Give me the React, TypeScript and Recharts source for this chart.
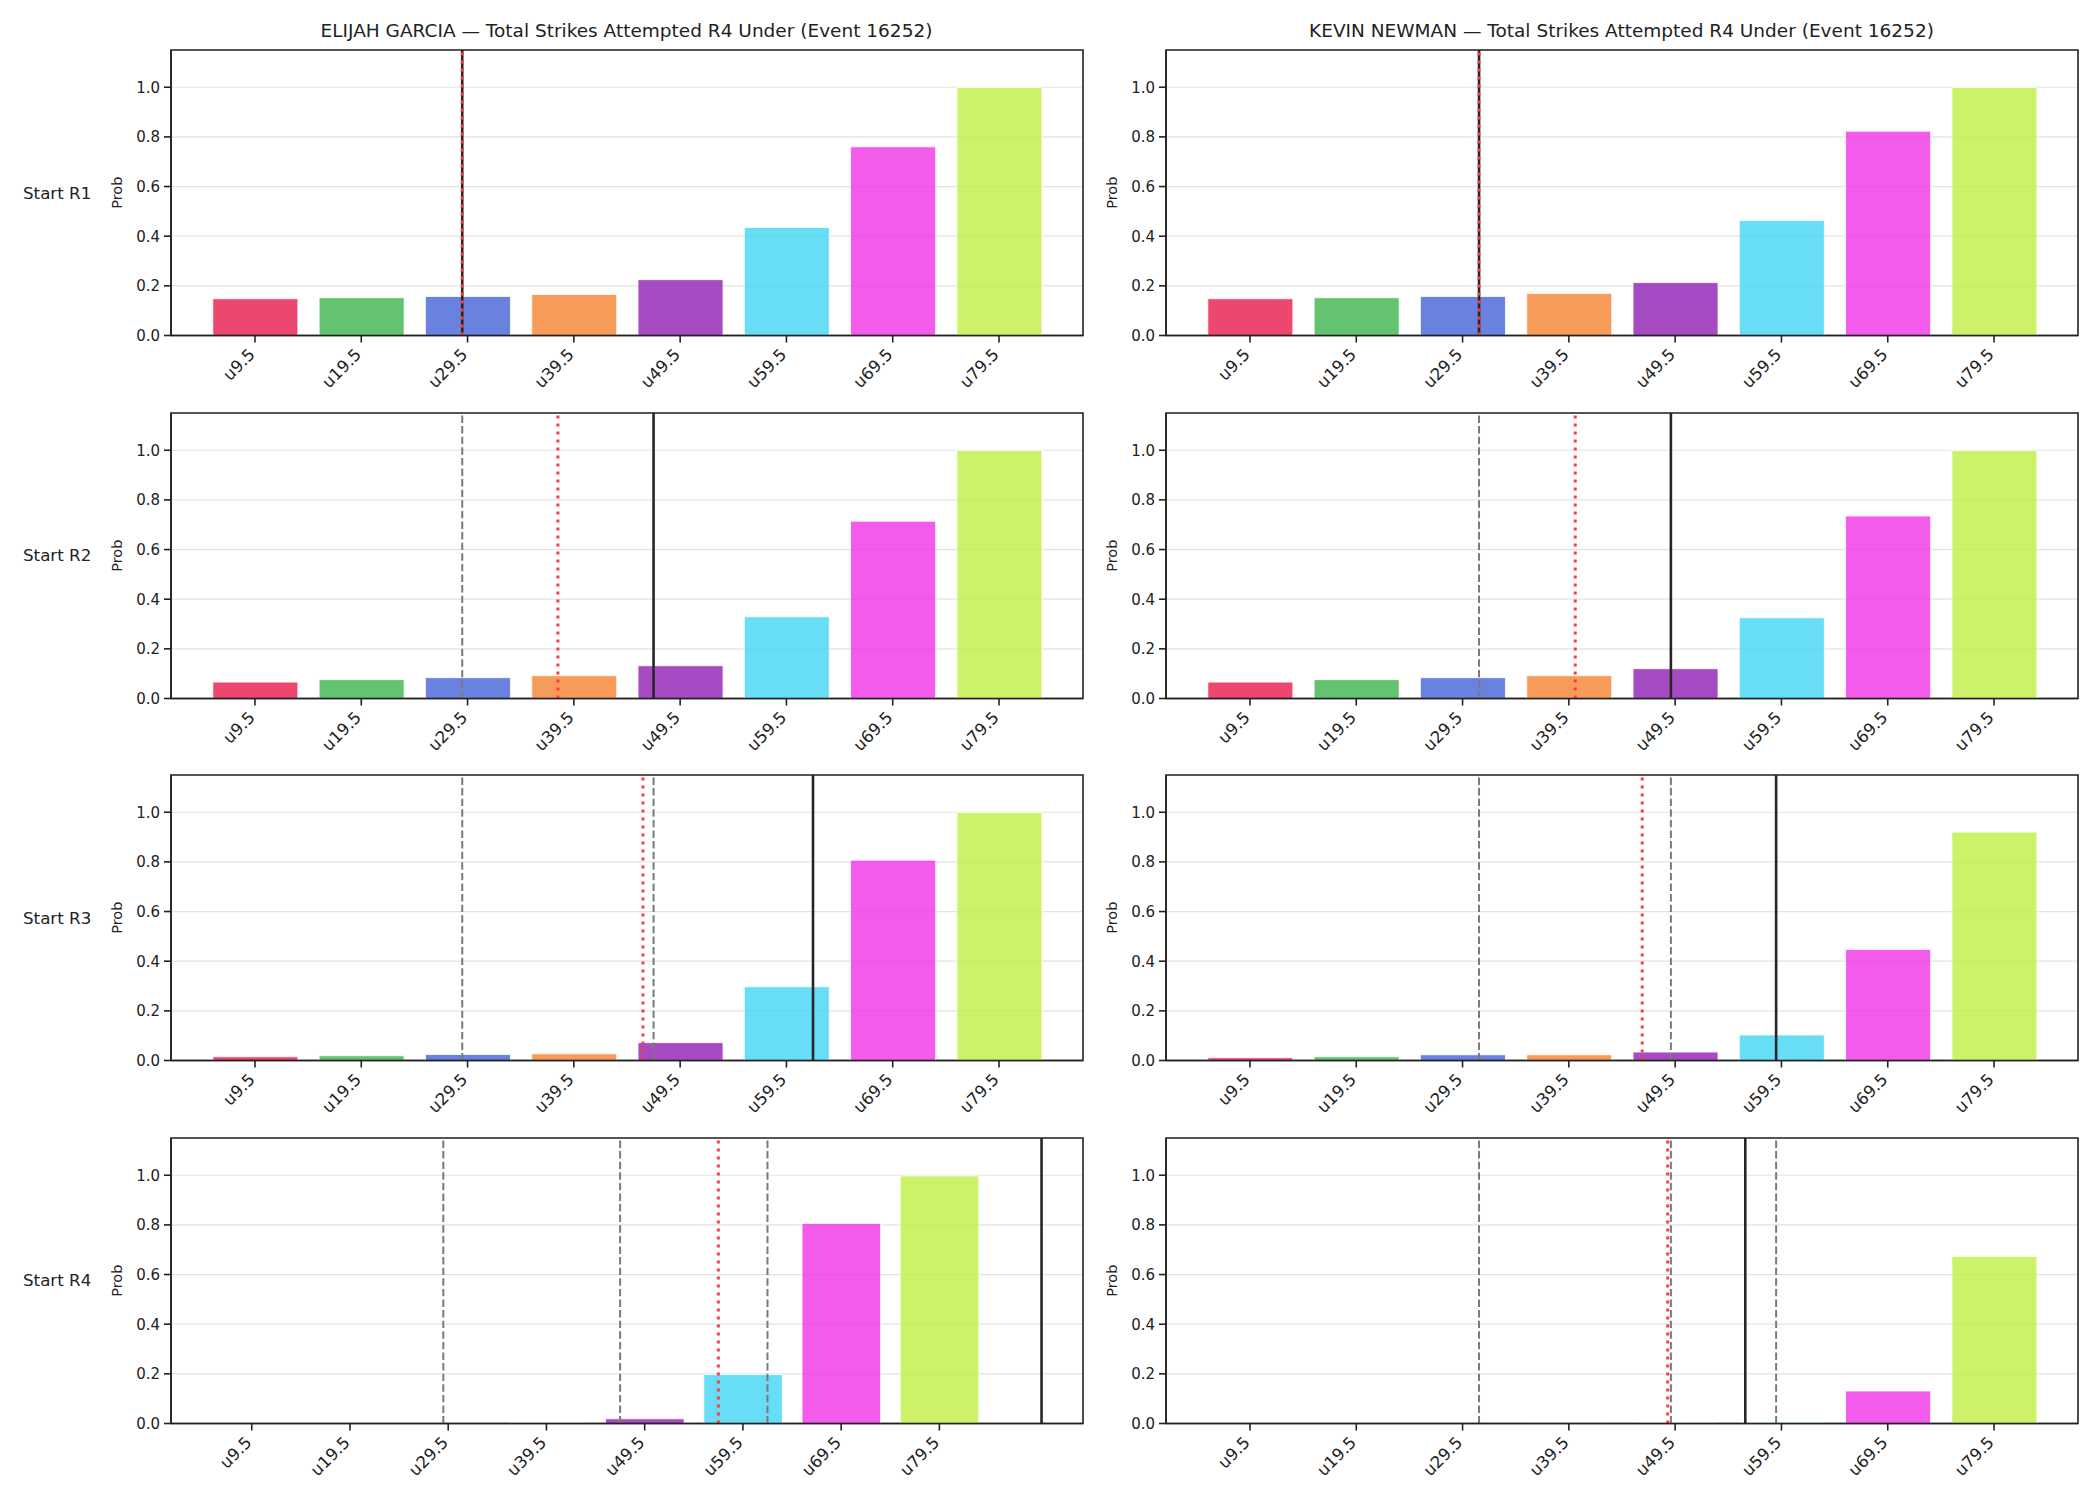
import React from 'react';
import { BarChart, Bar, XAxis, YAxis, CartesianGrid, ReferenceLine, ReferenceArea, Cell } from 'recharts';

// ---------- data ----------
const categories = ['u9.5', 'u19.5', 'u29.5', 'u39.5', 'u49.5', 'u59.5', 'u69.5', 'u79.5'];
const barColors = ['#e6194B', '#3cb44b', '#4363d8', '#f58231', '#911eb4', '#42d4f4', '#f032e6', '#bfef45'];
const roundLabels = ['Start R1', 'Start R2', 'Start R3', 'Start R4'];
const playerNames = ['ELIJAH GARCIA', 'KEVIN NEWMAN'];
const marketName = 'Total Strikes Attempted R4 Under';
const eventId = 16252;
const yTicks = [0, 0.2, 0.4, 0.6, 0.8, 1.0];

const garciaR1 = [0.148, 0.152, 0.157, 0.165, 0.225, 0.435, 0.760, 0.999];
const garciaR2 = [0.066, 0.076, 0.084, 0.092, 0.132, 0.329, 0.714, 0.999];
const garciaR3 = [0.015, 0.019, 0.024, 0.027, 0.072, 0.297, 0.807, 0.999];
const garciaR4 = [0.0, 0.0, 0.0, 0.002, 0.019, 0.197, 0.806, 0.997];

const newmanR1 = [0.148, 0.152, 0.157, 0.169, 0.213, 0.463, 0.823, 0.999];
const newmanR2 = [0.066, 0.076, 0.084, 0.092, 0.120, 0.325, 0.735, 0.999];
const newmanR3 = [0.011, 0.015, 0.023, 0.023, 0.034, 0.103, 0.447, 0.920];
const newmanR4 = [0.0, 0.0, 0.0, 0.001, 0.002, 0.005, 0.131, 0.673];

// marker positions on the category axis (index units)
const garciaStart = [1.95, 3.75, 5.25, 8.04];     // solid black
const garciaProj = [1.95, 2.85, 3.65, 4.75];      // red dotted
const newmanStart = [2.155, 3.96, 4.95, 4.66];
const newmanProj = [2.155, 3.06, 3.69, 3.93];

const players = [
  { name: playerNames[0], rounds: [garciaR1, garciaR2, garciaR3, garciaR4], start: garciaStart, proj: garciaProj },
  { name: playerNames[1], rounds: [newmanR1, newmanR2, newmanR3, newmanR4], start: newmanStart, proj: newmanProj },
];

// ---------- layout ----------
const FONT = 'DejaVu Sans';
const COL_LEFT = [170.5, 1165.5];
const ROW_TOP = [50, 412.5, 775, 1137.5];
const PW = 912;
const PH = 285.5;
const YW = 70;
const MT = 5;
const XH = 80;
const MR = 8;
const INK = '#222';

const XTick = (props: any) => {
  const { x, y, payload } = props;
  const ax = x + 1;
  const ay = y + 11;
  return (
    <text x={ax} y={ay} transform={`rotate(-45, ${ax}, ${ay})`} textAnchor="end" fontSize={16.5} fill={INK} fontFamily={FONT}>
      {categories[payload.value]}
    </text>
  );
};

const Panel = ({ probs, start, proj, prior }: { probs: number[]; start: number; proj: number; prior: number[] }) => {
  const data = probs.map((p, i) => ({ x: i, p }));
  const marks = [start, proj, ...prior];
  const lo = Math.min(-0.4, ...marks);
  const hi = Math.max(categories.length - 1 + 0.4, ...marks);
  const m = 0.05 * (hi - lo);
  const dmin = lo - m;
  const dmax = hi + m;
  const barSize = (0.8 * PW) / (dmax - dmin);
  const xTicks = categories.map((_, i) => i);
  return (
    <BarChart width={YW + PW + MR} height={MT + PH + XH} data={data} margin={{ top: MT, right: MR, left: 0, bottom: 0 }}>
      <CartesianGrid vertical={false} stroke="#e3e3e3" strokeWidth={1.2} />
      <XAxis
        dataKey="x"
        type="number"
        domain={[dmin, dmax]}
        allowDataOverflow
        ticks={xTicks}
        interval={0}
        height={XH}
        tickSize={7}
        tick={<XTick />}
        tickLine={{ stroke: INK, strokeWidth: 1.6 }}
        axisLine={{ stroke: INK, strokeWidth: 1.6 }}
      />
      <YAxis
        type="number"
        domain={[0, 1.15]}
        allowDataOverflow
        ticks={yTicks}
        interval={0}
        width={YW}
        tickSize={7}
        tickMargin={4}
        tickFormatter={(v: number) => v.toFixed(1)}
        tick={{ fontSize: 15, fill: INK, fontFamily: FONT }}
        tickLine={{ stroke: INK, strokeWidth: 1.6 }}
        axisLine={{ stroke: INK, strokeWidth: 1.6 }}
        label={(lp: any) => {
          const vb = lp.viewBox || {};
          const cx = (vb.x ?? 0) + 16;
          const cy = (vb.y ?? 0) + (vb.height ?? 0) / 2;
          return (
            <text x={cx} y={cy} transform={`rotate(-90, ${cx}, ${cy})`} textAnchor="middle" dominantBaseline="central" fontSize={14.5} fill={INK} fontFamily={FONT}>
              Prob
            </text>
          );
        }}
      />
      <Bar dataKey="p" barSize={barSize} isAnimationActive={false} stroke="#ffffff" strokeWidth={0.8}>
        {data.map((d, i) => (
          <Cell key={i} fill={barColors[i]} fillOpacity={0.8} />
        ))}
      </Bar>
      {prior.map((v, i) => (
        <ReferenceLine key={'g' + i} x={v} stroke="#7a7a7a" strokeWidth={2} strokeDasharray="7.4 3.2" />
      ))}
      <ReferenceLine x={start} stroke="#262626" strokeWidth={2.6} />
      <ReferenceLine x={proj} stroke="#ff3b3b" strokeWidth={3} strokeDasharray="3 5" />
      <ReferenceArea x1={dmin} x2={dmax} y1={0} y2={1.15} fill="none" fillOpacity={0} stroke={INK} strokeWidth={1.6} ifOverflow="visible" />
    </BarChart>
  );
};

export default function App() {
  return (
    <div style={{ position: 'absolute', left: 0, top: 0, width: 2100, height: 1500, background: '#fff', fontFamily: FONT, color: INK }}>
      {players.map((pl, c) => (
        <div
          key={'t' + c}
          style={{ position: 'absolute', left: COL_LEFT[c], top: 19, width: PW, textAlign: 'center', fontSize: 18.5, lineHeight: '24px', whiteSpace: 'nowrap' }}
        >
          {`${pl.name} — ${marketName} (Event ${eventId})`}
        </div>
      ))}
      {roundLabels.map((lab, r) => (
        <div key={'r' + r} style={{ position: 'absolute', left: 23, top: ROW_TOP[r] + PH / 2 - 11, fontSize: 16.7, lineHeight: '22px', whiteSpace: 'nowrap' }}>
          {lab}
        </div>
      ))}
      {players.map((pl, c) =>
        pl.rounds.map((probs, r) => (
          <div key={`p${c}-${r}`} style={{ position: 'absolute', left: COL_LEFT[c] - YW, top: ROW_TOP[r] - MT }}>
            <Panel probs={probs} start={pl.start[r]} proj={pl.proj[r]} prior={pl.start.slice(0, r)} />
          </div>
        ))
      )}
    </div>
  );
}
